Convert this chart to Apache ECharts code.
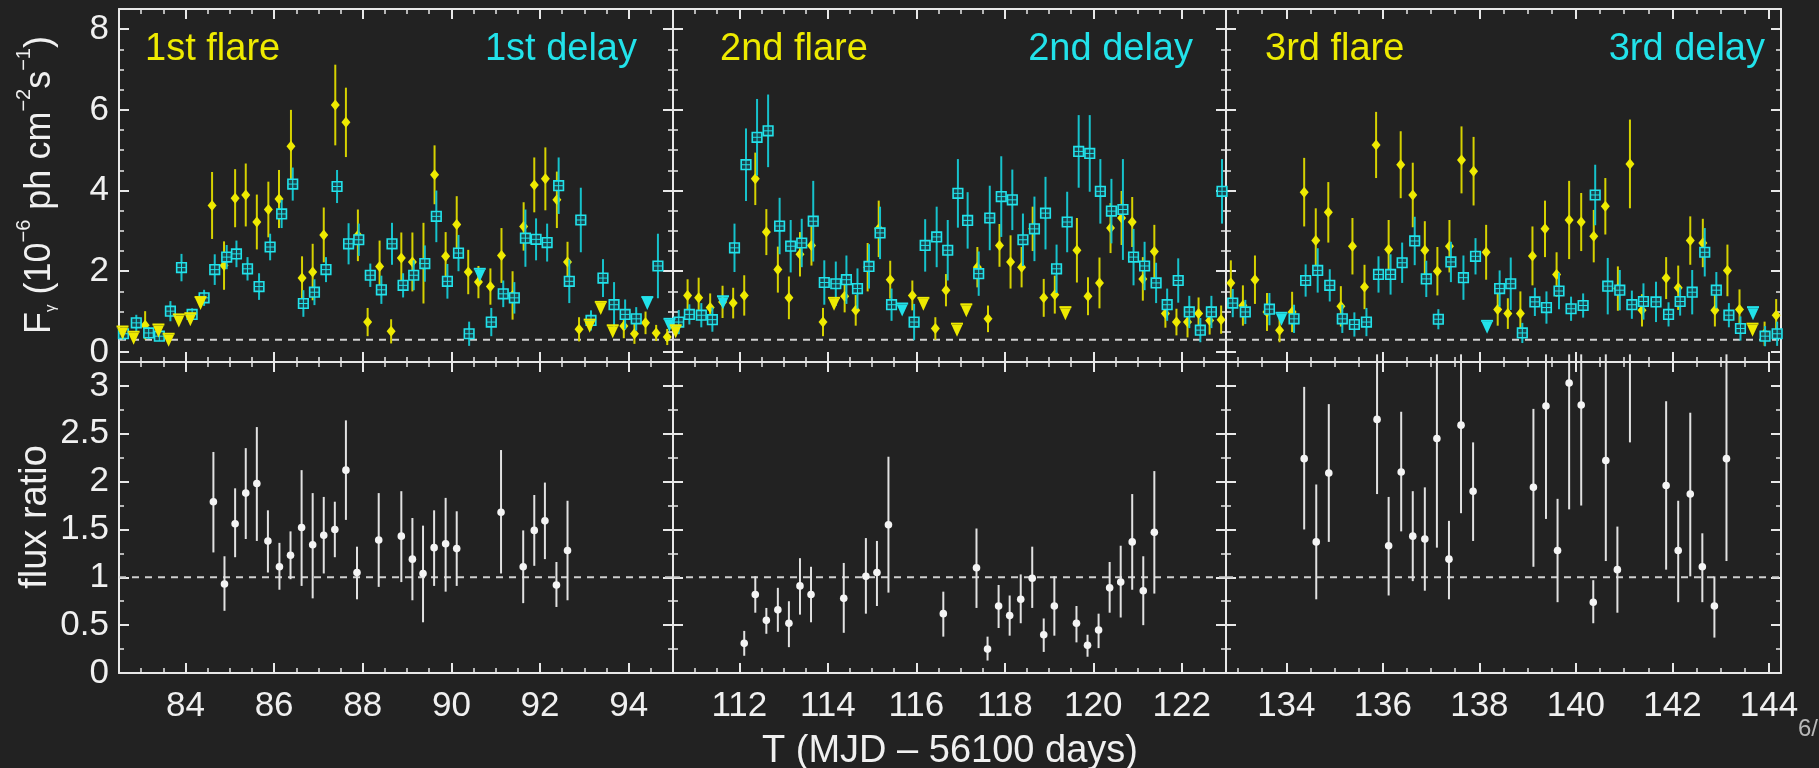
<!DOCTYPE html>
<html><head><meta charset="utf-8">
<script src="https://cdn.jsdelivr.net/npm/echarts@6/dist/echarts.min.js"></script>
<style>html,body{margin:0;padding:0;background:#222222;overflow:hidden}#c{width:1819px;height:768px;}</style>
</head><body><div id="c"></div><script>
// ---------------- DATA ----------------
// axis ranges (days = MJD - 56100)
const xRanges = [[82.5, 95], [110.5, 123], [132.75, 144.25]];
const fluxRange = [-0.25, 8.5];
const ratioRange = [0, 3.25];
const fluxRefLevel = [0.3];
const ratioRefLevel = [1];
const panelFlareLabels = ['1st flare', '2nd flare', '3rd flare'];
const panelDelayLabels = ['1st delay', '2nd delay', '3rd delay'];

// flare detections [t, flux, err]
const flare1 = [[83.09,0.66,0.35],[84.60,3.63,0.83],[84.87,2.14,0.60],[85.12,3.81,0.72],[85.36,3.89,0.78],[85.61,3.22,0.68],[85.87,3.53,0.69],[86.11,3.79,0.72],[86.38,5.10,0.90],[86.63,1.83,0.54],[86.87,1.98,0.70],[87.12,2.90,0.68],[87.38,6.12,1.00],[87.62,5.69,0.86],[87.89,2.89,0.64],[88.11,0.74,0.35],[88.38,2.12,0.64],[88.64,0.51,0.30],[88.87,2.33,0.63],[89.12,2.23,0.73],[89.37,2.20,1.00],[89.62,4.39,0.73],[89.87,2.37,0.60],[90.12,3.16,0.70],[90.38,1.98,0.55],[90.61,1.73,0.40],[90.88,1.62,0.45],[91.13,2.39,0.68],[91.38,1.40,0.60],[91.63,3.11,0.60],[91.87,4.14,0.68],[92.12,4.29,0.78],[92.38,3.77,0.70],[92.62,2.23,0.50],[92.88,0.56,0.30],[93.89,0.64,0.30],[94.13,0.45,0.25],[94.38,0.72,0.28],[94.62,0.47,0.20],[94.87,0.37,0.20]];
const flare1UL = [[82.58,0.63],[82.83,0.50],[83.39,0.68],[83.62,0.45],[83.85,0.93],[84.11,0.96],[84.34,1.36],[93.12,0.80],[93.37,1.24],[93.64,0.66]];
const delay1 = [[82.60,0.45,0.15],[82.89,0.72,0.20],[83.17,0.47,0.15],[83.41,0.39,0.12],[83.66,1.01,0.25],[83.91,2.09,0.34],[84.15,0.93,0.15],[84.42,1.34,0.20],[84.66,2.04,0.38],[84.93,2.35,0.30],[85.15,2.43,0.33],[85.40,2.06,0.29],[85.66,1.62,0.33],[85.91,2.60,0.33],[86.17,3.42,0.35],[86.42,4.16,0.41],[86.66,1.20,0.33],[86.91,1.48,0.32],[87.17,2.04,0.31],[87.42,4.10,0.41],[87.68,2.68,0.51],[87.91,2.78,0.40],[88.17,1.90,0.29],[88.42,1.54,0.35],[88.66,2.68,0.52],[88.91,1.65,0.30],[89.15,1.90,0.37],[89.40,2.19,0.45],[89.66,3.36,0.64],[89.91,1.75,0.43],[90.16,2.45,0.45],[90.40,0.45,0.30],[90.90,0.74,0.35],[91.17,1.44,0.33],[91.42,1.34,0.39],[91.67,2.82,0.71],[91.91,2.79,0.52],[92.16,2.71,0.47],[92.42,4.12,0.70],[92.66,1.75,0.54],[92.92,3.27,0.80],[93.15,0.78,0.25],[93.42,1.83,0.47],[93.67,1.17,0.56],[93.92,0.93,0.37],[94.17,0.82,0.29],[94.66,2.13,0.80]];
const delay1UL = [[90.64,2.06],[94.42,1.36],[94.92,0.82]];
// flux ratio [t, ratio, low, high]
const ratio1 = [[84.63,1.79,1.26,2.31],[84.88,0.93,0.65,1.22],[85.12,1.56,1.21,1.93],[85.36,1.88,1.40,2.35],[85.61,1.98,1.38,2.57],[85.86,1.38,1.05,1.70],[86.12,1.11,0.87,1.36],[86.37,1.23,0.98,1.48],[86.62,1.52,0.91,2.12],[86.87,1.34,0.78,1.88],[87.12,1.44,1.04,1.84],[87.37,1.50,1.21,1.79],[87.62,2.12,1.60,2.64],[87.87,1.05,0.77,1.32],[88.36,1.39,0.90,1.88],[88.87,1.43,0.95,1.90],[89.12,1.19,0.76,1.62],[89.36,1.04,0.53,1.54],[89.61,1.31,0.91,1.70],[89.87,1.35,0.85,1.83],[90.12,1.30,0.91,1.69],[91.12,1.68,1.04,2.33],[91.62,1.11,0.73,1.49],[91.87,1.49,1.12,1.86],[92.11,1.59,1.19,1.99],[92.37,0.92,0.69,1.16],[92.62,1.28,0.76,1.80]];

const flare2 = [[110.83,1.40,0.40],[111.08,1.34,0.50],[111.34,1.10,0.35],[111.62,1.24,0.40],[111.86,1.21,0.38],[112.11,1.40,0.50],[112.36,4.29,0.65],[112.61,2.97,0.57],[112.87,2.04,0.57],[113.12,1.34,0.53],[113.37,2.42,0.55],[113.63,2.64,0.50],[113.89,0.74,0.35],[114.38,1.38,0.40],[114.63,1.03,0.38],[114.90,2.10,0.60],[115.15,3.05,0.70],[115.41,1.79,0.47],[115.91,1.40,0.37],[116.43,0.58,0.28],[116.67,1.53,0.40],[117.38,2.10,0.50],[117.62,0.82,0.33],[117.88,2.64,0.53],[118.13,2.23,0.66],[118.38,2.10,0.50],[118.63,3.05,0.55],[118.88,1.34,0.47],[119.13,1.42,0.47],[119.63,2.52,0.80],[119.88,1.38,0.47],[120.14,1.71,0.63],[120.39,3.07,0.62],[120.64,3.32,0.67],[120.88,3.22,0.62],[121.12,1.81,0.54],[121.38,2.49,0.66],[121.63,0.95,0.35],[121.88,0.74,0.33],[122.13,0.74,0.38],[122.38,0.95,0.40],[122.63,0.78,0.35],[122.89,0.80,0.35]];
const flare2UL = [[110.56,0.66],[114.14,1.34],[116.16,1.34],[116.92,0.70],[117.13,1.18],[119.37,1.11]];
const delay2 = [[110.63,0.74,0.30],[110.87,0.93,0.25],[111.14,0.91,0.30],[111.39,0.80,0.30],[111.89,2.58,0.60],[112.15,4.64,0.90],[112.40,5.32,0.95],[112.65,5.48,0.90],[112.91,3.12,0.70],[113.16,2.62,0.65],[113.41,2.70,0.60],[113.67,3.24,1.00],[113.92,1.72,0.55],[114.18,1.69,0.55],[114.42,1.79,0.60],[114.67,1.57,0.50],[114.93,2.12,0.55],[115.18,2.95,0.65],[115.44,1.17,0.40],[115.95,0.74,0.45],[116.20,2.64,0.65],[116.46,2.85,0.75],[116.71,2.52,0.75],[116.94,3.93,0.85],[117.16,3.26,0.70],[117.41,1.94,0.55],[117.66,3.32,0.80],[117.92,3.85,1.00],[118.17,3.77,0.75],[118.41,2.78,0.65],[118.67,3.05,0.80],[118.92,3.44,0.90],[119.17,2.06,0.60],[119.41,3.22,0.75],[119.67,4.97,0.90],[119.92,4.92,0.95],[120.16,3.98,0.80],[120.41,3.49,0.80],[120.67,3.53,1.25],[120.91,2.35,0.70],[121.16,2.13,0.60],[121.42,1.71,0.50],[121.67,1.17,0.40],[121.92,1.77,0.55],[122.17,0.99,0.40],[122.42,0.54,0.30],[122.67,0.99,0.40],[122.91,3.98,0.80]];
const delay2UL = [[111.63,1.38],[115.68,1.20]];
const ratio2 = [[112.11,0.31,0.18,0.44],[112.36,0.82,0.63,1.01],[112.61,0.55,0.41,0.68],[112.87,0.66,0.43,0.89],[113.12,0.52,0.27,0.75],[113.37,0.91,0.61,1.20],[113.62,0.82,0.53,1.11],[114.36,0.78,0.42,1.15],[114.86,1.01,0.62,1.41],[115.11,1.05,0.70,1.38],[115.37,1.55,0.84,2.26],[116.61,0.62,0.38,0.85],[117.36,1.10,0.68,1.51],[117.61,0.25,0.13,0.38],[117.86,0.70,0.47,0.92],[118.11,0.60,0.39,0.81],[118.36,0.77,0.52,1.03],[118.62,0.99,0.68,1.32],[118.88,0.40,0.22,0.57],[119.12,0.70,0.39,1.01],[119.62,0.52,0.32,0.70],[119.87,0.29,0.17,0.40],[120.12,0.45,0.26,0.62],[120.37,0.89,0.63,1.16],[120.62,0.95,0.58,1.33],[120.88,1.37,0.87,1.87],[121.13,0.86,0.50,1.22],[121.38,1.47,0.83,2.11]];

const flare3 = [[132.85,1.71,0.56],[133.10,1.15,0.50],[133.35,1.79,0.60],[133.60,0.99,0.47],[133.86,0.54,0.30],[134.12,0.99,0.50],[134.37,3.96,0.85],[134.61,2.76,0.80],[134.87,3.46,0.75],[135.13,1.13,0.50],[135.37,2.62,0.70],[135.62,1.61,0.55],[135.86,5.13,0.82],[136.12,2.54,0.73],[136.37,4.64,0.83],[136.62,3.89,0.80],[136.87,2.52,0.72],[137.13,2.00,0.60],[137.38,2.62,0.65],[137.63,4.76,0.83],[137.88,4.48,0.85],[138.14,2.47,0.68],[138.38,1.05,0.40],[138.59,0.95,0.38],[138.85,0.95,0.55],[139.10,2.38,0.73],[139.36,3.05,0.70],[139.60,1.92,0.55],[139.86,3.27,0.97],[140.11,3.22,0.72],[140.37,2.87,0.65],[140.61,3.61,0.70],[140.87,1.57,0.55],[141.12,4.66,1.10],[141.37,1.03,0.40],[141.87,1.83,0.52],[142.12,1.59,0.55],[142.37,2.76,0.60],[142.63,2.70,0.60],[142.88,1.03,0.40],[143.14,2.02,0.64],[143.39,1.05,0.50],[143.91,0.45,0.30],[144.15,0.91,0.40]];
const flare3UL = [[143.66,0.70]];
const delay3 = [[132.89,1.21,0.35],[133.15,0.99,0.30],[133.65,1.06,0.40],[134.16,0.82,0.35],[134.40,1.77,0.40],[134.65,2.02,0.55],[134.90,1.65,0.40],[135.16,0.82,0.35],[135.41,0.68,0.30],[135.66,0.74,0.35],[135.91,1.92,0.45],[136.16,1.92,0.50],[136.40,2.21,0.50],[136.66,2.75,0.60],[136.90,1.81,0.45],[137.15,0.81,0.25],[137.41,2.23,0.50],[137.67,1.84,0.55],[137.92,2.37,0.45],[138.42,1.57,0.45],[138.65,1.69,0.65],[138.89,0.47,0.25],[139.15,1.24,0.35],[139.39,1.10,0.40],[139.65,1.51,0.45],[139.90,1.07,0.30],[140.15,1.15,0.30],[140.40,3.89,0.75],[140.66,1.63,0.70],[140.91,1.53,0.50],[141.16,1.17,0.35],[141.40,1.25,0.45],[141.66,1.24,0.50],[141.92,0.93,0.30],[142.16,1.25,0.35],[142.41,1.48,0.55],[142.67,2.47,0.60],[142.91,1.53,0.45],[143.17,0.91,0.30],[143.41,0.58,0.30],[143.92,0.39,0.25],[144.17,0.45,0.30]];
const delay3UL = [[133.90,0.97],[138.16,0.77],[143.67,1.11]];
const ratio3 = [[134.37,2.24,1.50,2.99],[134.62,1.37,0.77,1.97],[134.88,2.09,1.37,2.81],[135.88,2.65,1.87,3.60],[136.12,1.33,0.81,1.84],[136.38,2.10,1.48,2.73],[136.62,1.43,0.96,1.90],[136.87,1.40,0.86,1.94],[137.12,2.45,1.31,3.60],[137.37,1.19,0.77,1.59],[137.62,2.59,1.67,3.55],[137.87,1.90,1.38,2.41],[139.12,1.94,1.11,2.76],[139.38,2.79,1.61,3.90],[139.62,1.28,0.74,1.82],[139.86,3.03,1.71,4.30],[140.11,2.80,1.75,3.80],[140.36,0.74,0.52,0.97],[140.62,2.22,1.17,3.50],[140.86,1.08,0.63,1.53],[141.12,3.98,2.41,5.50],[141.87,1.96,1.08,2.84],[142.12,1.28,0.74,1.80],[142.37,1.87,1.01,2.72],[142.62,1.11,0.74,1.46],[142.87,0.70,0.37,1.01],[143.12,2.24,1.17,3.40]];

const flares = [flare1, flare2, flare3];
const flaresUL = [flare1UL, flare2UL, flare3UL];
const delays = [delay1, delay2, delay3];
const delaysUL = [delay1UL, delay2UL, delay3UL];
const ratios = [ratio1, ratio2, ratio3];

// ---------------- STYLE ----------------
const FONT = '"Liberation Sans", Arial, Helvetica, sans-serif';
const AX = '#e8e8e8';
const YEL = '#eeea00', YEL_BAR = '#d6d200';
const CY = '#22e2ea', CY_BAR = '#16c2cc';
const WHITE = '#f0f0f0';
const panelX = [[119, 554], [673, 553], [1226, 555]]; // left, width
const topBox = [9, 353], botBox = [362, 311];
const RATIO_BAR_LIMIT = 3.33; // bars overshoot the panel top slightly as in original

const grids = [], xAxes = [], yAxes = [], series = [];
function isMult(v, s) { return Math.abs(v / s - Math.round(v / s)) < 1e-6; }
function axisCommon(extra) {
  return Object.assign({
    type: 'value', scale: false,
    axisLine: { show: true, onZero: false, lineStyle: { color: AX, width: 2 } },
    axisTick: { show: true, inside: true, length: 10, lineStyle: { color: AX, width: 2 } },
    minorTick: { show: true, length: 5, lineStyle: { color: AX, width: 1.5 } },
    splitLine: { show: false }, minorSplitLine: { show: false },
    axisLabel: { show: false }
  }, extra);
}
for (let row = 0; row < 2; row++) {
  for (let p = 0; p < 3; p++) {
    const g = row * 3 + p;
    const box = row === 0 ? topBox : botBox;
    grids.push({ left: panelX[p][0], width: panelX[p][1], top: box[0], height: box[1], containLabel: false, outerBoundsMode: 'none' });
    const xr = xRanges[p];
    const xLabel = { show: row === 1, color: WHITE, fontFamily: FONT, fontSize: 35, margin: 16,
      formatter: v => isMult(v, 2) ? String(Math.round(v)) : '' };
    xAxes.push(axisCommon({ gridIndex: g, position: 'bottom', min: xr[0], max: xr[1], splitNumber: 6,
      minorTick: { show: true, splitNumber: 4, length: 5, lineStyle: { color: AX, width: 1.5 } }, axisLabel: xLabel }));
    xAxes.push(axisCommon({ gridIndex: g, position: 'top', min: xr[0], max: xr[1], splitNumber: 6,
      minorTick: { show: true, splitNumber: 4, length: 5, lineStyle: { color: AX, width: 1.5 } } }));
    let yopt;
    if (row === 0) {
      yopt = { min: fluxRange[0], max: fluxRange[1], splitNumber: 5,
        minorTick: { show: true, splitNumber: 4, length: 5, lineStyle: { color: AX, width: 1.5 } } };
    } else {
      yopt = { min: ratioRange[0], max: ratioRange[1], interval: 0.5,
        minorTick: { show: true, splitNumber: 2, length: 5, lineStyle: { color: AX, width: 1.5 } } };
    }
    const step = row === 0 ? 2 : 0.5;
    yAxes.push(axisCommon(Object.assign({ gridIndex: g, position: 'left',
      axisLabel: { show: p === 0, color: WHITE, fontFamily: FONT, fontSize: 35, margin: 10,
        formatter: v => isMult(v, step) ? String(+v.toFixed(2)) : '' } }, yopt)));
    yAxes.push(axisCommon(Object.assign({ gridIndex: g, position: 'right' }, yopt)));
  }
}

function refLineSeries(g, level) {
  return {
    type: 'custom', xAxisIndex: 2 * g, yAxisIndex: 2 * g, z: 1, silent: true,
    data: [[xRanges[g % 3][0], level]],
    renderItem: (params, api) => {
      const cs = params.coordSys;
      const y = api.coord([api.value(0), api.value(1)])[1];
      return { type: 'line', shape: { x1: cs.x, y1: y, x2: cs.x + cs.width, y2: y },
        style: { stroke: '#d0d0d0', lineWidth: 2, lineDash: [7, 6] } };
    }
  };
}
function fluxSeries(g, data, kind) {
  return {
    type: 'custom', xAxisIndex: 2 * g, yAxisIndex: 2 * g, z: kind === 'diamond' ? 3 : 4, silent: true, data,
    renderItem: (params, api) => {
      const t = api.value(0), v = api.value(1), e = api.value(2);
      const p = api.coord([t, v]);
      const lo = api.coord([t, v - e]), hi = api.coord([t, v + e]);
      const x = p[0], y = p[1];
      const ch = [{ type: 'line', shape: { x1: x, y1: hi[1], x2: x, y2: lo[1] },
        style: { stroke: kind === 'diamond' ? YEL_BAR : CY_BAR, lineWidth: 2 } }];
      if (kind === 'diamond') {
        ch.push({ type: 'polygon', shape: { points: [[x, y - 5.5], [x + 4.5, y], [x, y + 5.5], [x - 4.5, y]] }, style: { fill: YEL } });
      } else {
        const s = 4.8;
        ch.push({ type: 'rect', shape: { x: x - s, y: y - s, width: 2 * s, height: 2 * s }, style: { fill: 'rgba(28,70,78,0.95)', stroke: CY, lineWidth: 1.6 } });
        ch.push({ type: 'line', shape: { x1: x - s, y1: y, x2: x + s, y2: y }, style: { stroke: CY, lineWidth: 1 } });
        ch.push({ type: 'line', shape: { x1: x, y1: y - s, x2: x, y2: y + s }, style: { stroke: CY, lineWidth: 1 } });
      }
      return { type: 'group', children: ch };
    }
  };
}
function ulSeries(g, data, color) {
  return {
    type: 'custom', xAxisIndex: 2 * g, yAxisIndex: 2 * g, z: 5, silent: true, data,
    renderItem: (params, api) => {
      const p = api.coord([api.value(0), api.value(1)]);
      const x = p[0], y = p[1];
      return { type: 'group', children: [
        { type: 'line', shape: { x1: x - 6, y1: y, x2: x + 6, y2: y }, style: { stroke: color, lineWidth: 2 } },
        { type: 'polygon', shape: { points: [[x - 5.5, y + 1], [x + 5.5, y + 1], [x, y + 13]] }, style: { fill: color } }
      ] };
    }
  };
}
function ratioSeries(g, data) {
  return {
    type: 'custom', xAxisIndex: 2 * g, yAxisIndex: 2 * g, z: 3, silent: true, clip: false, data,
    renderItem: (params, api) => {
      const t = api.value(0), v = api.value(1), lo = api.value(2), hi = api.value(3);
      const p = api.coord([t, v]);
      const pl = api.coord([t, lo]), ph = api.coord([t, Math.min(hi, RATIO_BAR_LIMIT)]);
      const ch = [{ type: 'line', shape: { x1: p[0], y1: pl[1], x2: p[0], y2: ph[1] }, style: { stroke: '#e2e2e2', lineWidth: 2 } }];
      if (v <= ratioRange[1]) ch.push({ type: 'circle', shape: { cx: p[0], cy: p[1], r: 3.8 }, style: { fill: '#f4f4f4' } });
      return { type: 'group', children: ch };
    }
  };
}
for (let p = 0; p < 3; p++) {
  series.push(refLineSeries(p, fluxRefLevel[0]));
  series.push(fluxSeries(p, flares[p], 'diamond'));
  series.push(ulSeries(p, flaresUL[p], YEL));
  series.push(fluxSeries(p, delays[p], 'square'));
  series.push(ulSeries(p, delaysUL[p], CY));
  series.push(refLineSeries(p + 3, ratioRefLevel[0]));
  series.push(ratioSeries(p + 3, ratios[p]));
}

const graphics = [];
const flareLabelX = [145, 720, 1265];
const delayLabelX = [637, 1193, 1765];
for (let p = 0; p < 3; p++) {
  graphics.push({ type: 'text', x: flareLabelX[p], y: 50, style: { text: panelFlareLabels[p], fill: YEL, fontFamily: FONT, fontSize: 38, align: 'left', verticalAlign: 'middle' } });
  graphics.push({ type: 'text', x: delayLabelX[p], y: 50, style: { text: panelDelayLabels[p], fill: CY, fontFamily: FONT, fontSize: 38, align: 'right', verticalAlign: 'middle' } });
}
graphics.push({ type: 'text', x: 36, y: 185, rotation: Math.PI / 2, style: {
  text: '{m|F}{sub|γ}{m| (10}{sup|−6}{m| ph cm}{sup|−2}{m|s}{sup|−1}{m|)}',
  align: 'center', verticalAlign: 'middle', fill: WHITE, fontFamily: FONT, fontSize: 36,
  rich: {
    m: { fontSize: 36, fontFamily: FONT, fill: WHITE, lineHeight: 44, verticalAlign: 'bottom' },
    sup: { fontSize: 20, fontFamily: FONT, fill: WHITE, lineHeight: 22, verticalAlign: 'top' },
    sub: { fontSize: 15, fontFamily: FONT, fill: WHITE, lineHeight: 15, verticalAlign: 'bottom' }
  } } });
graphics.push({ type: 'text', x: 36, y: 517, rotation: Math.PI / 2, style: { text: 'flux ratio', align: 'center', verticalAlign: 'middle', fill: WHITE, fontFamily: FONT, fontSize: 38 } });
graphics.push({ type: 'text', x: 950, y: 752, style: { text: 'T (MJD – 56100 days)', align: 'center', verticalAlign: 'middle', fill: WHITE, fontFamily: FONT, fontSize: 38 } });
graphics.push({ type: 'text', x: 1798, y: 729, style: { text: '6/', align: 'left', verticalAlign: 'middle', fill: '#b8b8b8', fontFamily: FONT, fontSize: 24 } });

const chart = echarts.init(document.getElementById('c'), null, { renderer: 'canvas' });
chart.setOption({
  backgroundColor: '#222222', animation: false,
  grid: grids, xAxis: xAxes, yAxis: yAxes, series, graphic: graphics
});
</script></body></html>
